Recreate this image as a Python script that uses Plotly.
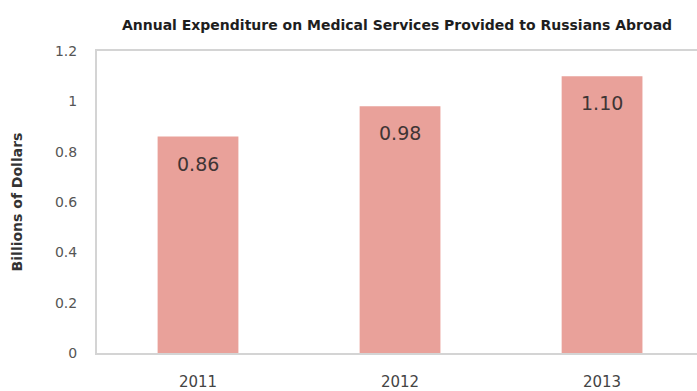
import plotly.graph_objects as go

# Annual spending on medical services for Russians abroad (billions USD)
years = ["2011", "2012", "2013"]
spend = [0.86, 0.98, 1.10]
value_labels = ["0.86", "0.98", "1.10"]
y_ticks = [0, 0.2, 0.4, 0.6, 0.8, 1, 1.2]
y_tick_text = ["0", "0.2", "0.4", "0.6", "0.8", "1", "1.2"]

BAR = "#e9a19a"
LINE = "#d4d4d4"
FONT = "DejaVu Sans, Verdana, sans-serif"

fig = go.Figure(
    go.Bar(
        x=years,
        y=spend,
        marker=dict(color=BAR, line=dict(width=0)),
        width=0.4,
        hoverinfo="skip",
    )
)

# value labels placed just inside the top of each bar (category index on x)
for i, (v, t) in enumerate(zip(spend, value_labels)):
    fig.add_annotation(
        x=i, y=v, xref="x", yref="y", text=t, showarrow=False,
        yanchor="middle", yshift=-27,
        font=dict(family=FONT, size=19, color="#3f3535"),
    )

fig.update_layout(
    width=697,
    height=391,
    margin=dict(l=97, r=0, t=51, b=32),
    paper_bgcolor="white",
    plot_bgcolor="white",
    showlegend=False,
    title=dict(
        text="<b>Annual Expenditure on Medical Services Provided to Russians Abroad</b>",
        x=0.5, xref="paper", xanchor="center",
        y=1 - 25 / 391, yref="container", yanchor="middle",
        font=dict(family=FONT, size=14, color="#1e1e1e"),
    ),
    xaxis=dict(
        type="category",
        range=[-0.5, 2.47],
        showline=True, linecolor=LINE, linewidth=2, mirror=True,
        showgrid=False, ticks="",
        ticklabelstandoff=14,
        tickfont=dict(family=FONT, size=15, color="#444444"),
    ),
    yaxis=dict(
        range=[0, 1.2],
        tickvals=y_ticks, ticktext=y_tick_text,
        showline=True, linecolor=LINE, linewidth=2,
        showgrid=False, zeroline=False, ticks="",
        ticklabelstandoff=15,
        tickfont=dict(family=FONT, size=14, color="#555555"),
        title=dict(
            text="<b>Billions of Dollars</b>", standoff=29,
            font=dict(family=FONT, size=14, color="#333333"),
        ),
    ),
)

fig.write_html("out.html")
